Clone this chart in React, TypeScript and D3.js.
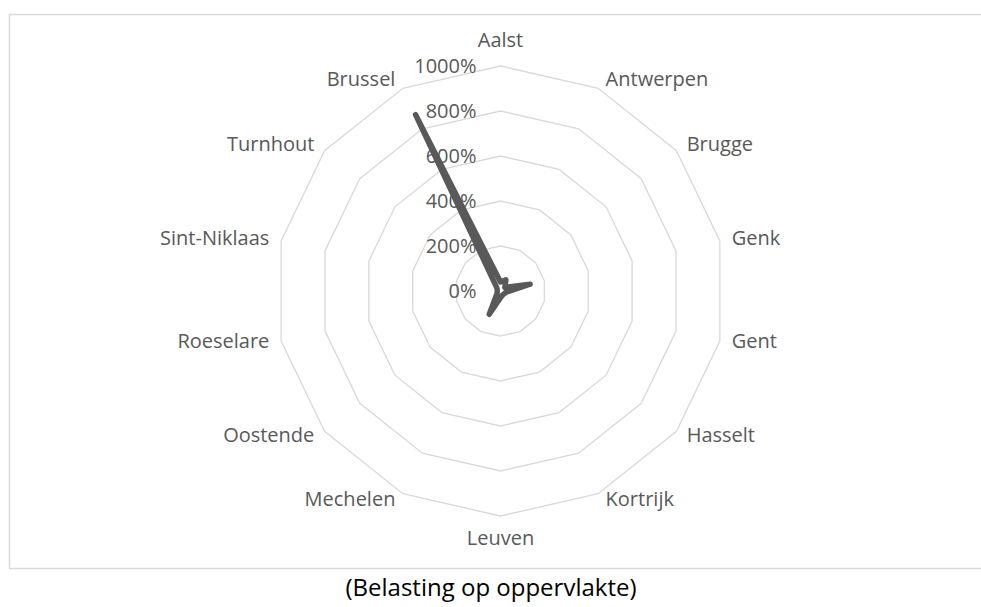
import React from "react";
import * as d3 from "d3";

const cities = [
  "Aalst",
  "Antwerpen",
  "Brugge",
  "Genk",
  "Gent",
  "Hasselt",
  "Kortrijk",
  "Leuven",
  "Mechelen",
  "Oostende",
  "Roeselare",
  "Sint-Niklaas",
  "Turnhout",
  "Brussel"
];
// belasting op oppervlakte, in %
const values = [40, 55, 25, 135, 25, 20, 20, 30, 115, 20, 15, 15, 20, 870];
const ticks = [0, 200, 400, 600, 800, 1000];
const title = "(Belasting op oppervlakte)";

const W = 981;
const H = 607;
const cx = 500.5;
const cy = 291;
const R = 225;
const font = "'Open Sans', sans-serif";

export default function App() {
  const n = cities.length;
  const angle = d3
    .scaleLinear()
    .domain([0, n])
    .range([0, 2 * Math.PI]);
  const r = d3.scaleLinear().domain([0, 1000]).range([0, R]);

  const ring = (v: number) =>
    d3
      .lineRadial<string>()
      .angle((_, i) => angle(i))
      .radius(() => r(v))
      .curve(d3.curveLinearClosed)(cities);

  const dataPath = d3
    .lineRadial<number>()
    .angle((_, i) => angle(i))
    .radius(d => r(d))
    .curve(d3.curveLinearClosed)(values);

  return (
    <svg
      width={W}
      height={H}
      style={{ position: "absolute", left: 0, top: 0, background: "#fff" }}
    >
      <rect
        x={9.5}
        y={14.5}
        width={W + 10}
        height={554}
        fill="#fff"
        stroke="#d9d9d9"
        strokeWidth={1.5}
      />
      <g transform={`translate(${cx},${cy})`}>
        {ticks
          .filter(t => t > 0)
          .map(t => (
            <path key={t} d={ring(t) || ""} fill="none" stroke="#d9d9d9" strokeWidth={1.3} />
          ))}
        <path
          d={dataPath || ""}
          fill="none"
          stroke="#595959"
          strokeWidth={5.5}
          strokeLinejoin="round"
          strokeLinecap="round"
        />
        {ticks.map(t => (
          <text
            key={t}
            x={-24}
            y={-r(t) + 2}
            textAnchor="end"
            dominantBaseline="middle"
            fontFamily={font}
            fontSize={20}
            fill="#595959"
          >
            {t}%
          </text>
        ))}
        {cities.map((c, i) => {
          const a = angle(i);
          const sx = Math.sin(a);
          const sy = -Math.cos(a);
          const side = Math.abs(sx) < 0.1 ? 0 : sx > 0 ? 1 : -1;
          const x = (R + 8) * sx + side * 4;
          const y = (R + 8) * sy + (side === 0 ? sy * 16 : 0);
          return (
            <text
              key={c}
              x={x}
              y={y}
              textAnchor={side === 0 ? "middle" : side > 0 ? "start" : "end"}
              dominantBaseline="middle"
              fontFamily={font}
              fontSize={20}
              fill="#595959"
            >
              {c}
            </text>
          );
        })}
      </g>
      <text
        x={491}
        y={590}
        textAnchor="middle"
        dominantBaseline="middle"
        fontFamily={font}
        fontSize={24}
        fill="#000"
      >
        {title}
      </text>
    </svg>
  );
}
